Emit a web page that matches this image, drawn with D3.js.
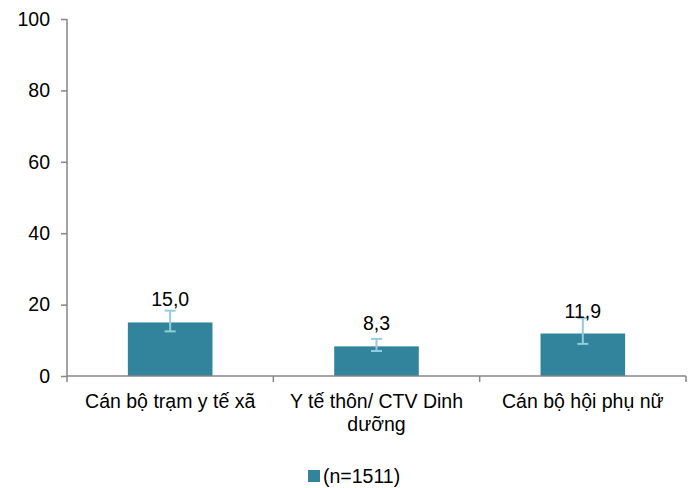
<!DOCTYPE html>
<html>
<head>
<meta charset="utf-8">
<script src="https://cdn.jsdelivr.net/npm/d3@7/dist/d3.min.js"></script>
<style>
  html, body { margin: 0; padding: 0; background: #fff; }
  svg { display: block; font-family: "Liberation Sans", Arial, sans-serif; }
</style>
</head>
<body>
<svg id="chart" width="697" height="488"></svg>
<script>
const categories = ["Cán bộ trạm y tế xã", "Y tế thôn/ CTV Dinh dưỡng", "Cán bộ hội phụ nữ"];
const values = [15.0, 8.3, 11.9];
const valueLabels = ["15,0", "8,3", "11,9"];
const errLow = [12.5, 7.0, 9.0];
const errHigh = [18.3, 10.4, 16.2];
const yTicks = [0, 20, 40, 60, 80, 100];
const seriesName = "(n=1511)";

const svg = d3.select("#chart");
const mLeft = 67, mRight = 686, mTop = 19, mBottom = 376;
const axisColor = "#868686";
const barColor = "#31849b";
const errColor = "#93cddd";
const fs = 19.5;

const x = d3.scaleBand().domain(categories).range([mLeft, mRight]).padding(0);
const y = d3.scaleLinear().domain([0, 100]).range([mBottom, mTop]);
const barW = x.bandwidth() * 0.41;

// Y axis
const yAxis = svg.append("g")
  .attr("transform", `translate(${mLeft},0)`)
  .call(d3.axisLeft(y).tickValues(yTicks).tickSize(6).tickPadding(11).tickFormat(d3.format("d")));
yAxis.select(".domain").attr("stroke", axisColor).attr("stroke-width", 1.5).attr("d", `M0,${mTop}V${mBottom}`);
yAxis.selectAll(".tick line").attr("stroke", axisColor).attr("stroke-width", 1.5);
yAxis.selectAll(".tick text").attr("font-size", fs).attr("fill", "#000")
  .attr("font-family", "'Liberation Sans', Arial, sans-serif");

// Bars
svg.append("g").selectAll("rect").data(categories).join("rect")
  .attr("x", d => x(d) + x.bandwidth() / 2 - barW / 2)
  .attr("y", (d, i) => y(values[i]))
  .attr("width", barW)
  .attr("height", (d, i) => y(0) - y(values[i]))
  .attr("fill", barColor);

// X axis
const xAxisG = svg.append("g").attr("transform", `translate(0,${mBottom})`);
xAxisG.append("line").attr("x1", mLeft).attr("x2", mRight).attr("y1", 0).attr("y2", 0)
  .attr("stroke", axisColor).attr("stroke-width", 1.5);
const boundaries = categories.map(c => x(c)).concat([x(categories[categories.length - 1]) + x.bandwidth()]);
xAxisG.selectAll("line.tk").data(boundaries).join("line").attr("class", "tk")
  .attr("x1", d => d).attr("x2", d => d).attr("y1", 0).attr("y2", 6)
  .attr("stroke", axisColor).attr("stroke-width", 1.5);

// Category labels with wrapping
const catG = svg.append("g");
categories.forEach((c, i) => {
  const cx = x(c) + x.bandwidth() / 2;
  const t = catG.append("text").attr("x", cx).attr("y", 408)
    .attr("text-anchor", "middle").attr("font-size", fs).attr("fill", "#000");
  const words = c.split(" ");
  let line = [];
  let tspan = t.append("tspan").attr("x", cx).attr("dy", 0);
  const maxW = x.bandwidth() - 4;
  words.forEach(w => {
    line.push(w);
    tspan.text(line.join(" "));
    if (tspan.node().getComputedTextLength() > maxW && line.length > 1) {
      line.pop();
      tspan.text(line.join(" "));
      line = [w];
      tspan = t.append("tspan").attr("x", cx).attr("dy", 23).text(w);
    }
  });
});

// Error bars
const capW = 11;
const errG = svg.append("g").attr("stroke", errColor).attr("stroke-width", 2).attr("fill", "none");
categories.forEach((c, i) => {
  const cx = x(c) + x.bandwidth() / 2;
  errG.append("line").attr("x1", cx).attr("x2", cx).attr("y1", y(errLow[i])).attr("y2", y(errHigh[i]));
  errG.append("line").attr("x1", cx - capW / 2).attr("x2", cx + capW / 2).attr("y1", y(errLow[i])).attr("y2", y(errLow[i]));
  errG.append("line").attr("x1", cx - capW / 2).attr("x2", cx + capW / 2).attr("y1", y(errHigh[i])).attr("y2", y(errHigh[i]));
});

// Value labels
svg.append("g").selectAll("text").data(categories).join("text")
  .attr("x", d => x(d) + x.bandwidth() / 2)
  .attr("y", (d, i) => y(values[i]) - 16)
  .attr("text-anchor", "middle").attr("font-size", fs).attr("fill", "#000")
  .text((d, i) => valueLabels[i]);

// Legend
const lg = svg.append("g");
lg.append("rect").attr("x", 308).attr("y", 470).attr("width", 12).attr("height", 12).attr("fill", barColor);
lg.append("text").attr("x", 323).attr("y", 483).attr("font-size", fs).attr("fill", "#000").text(seriesName);
</script>
</body>
</html>
